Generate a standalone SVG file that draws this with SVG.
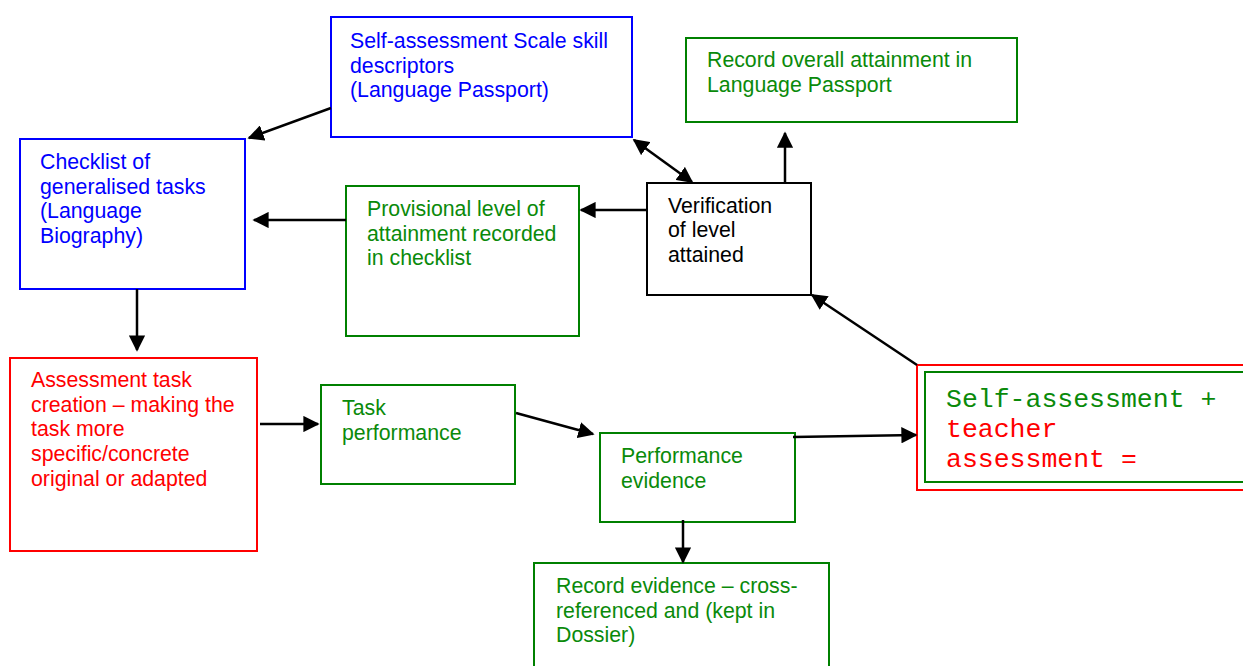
<svg xmlns="http://www.w3.org/2000/svg" width="1243" height="666" viewBox="0 0 1243 666">
<style>
rect{fill:#fff;stroke-width:2}
.b{stroke:#0000ff}.g{stroke:#008000}.r{stroke:#ff0000}.k{stroke:#000}
text{font-family:"Liberation Sans",Arial,sans-serif;font-size:21.3px}
.tb{fill:#0000ff}.tg{fill:#0a8a0a}.tr{fill:#ff0000}.tk{fill:#000}
.mono{font-family:"Liberation Mono","Courier New",monospace;font-size:26.5px}
.c line{stroke:#000;stroke-width:2.5;marker-end:url(#ah)}
</style>
<defs>
<marker id="ah" viewBox="0 0 10 10" refX="9" refY="5" markerWidth="6.5" markerHeight="6.5" markerUnits="strokeWidth" orient="auto"><path d="M0,0L10,5L0,10z" fill="#000"/></marker>
<marker id="as" viewBox="0 0 10 10" refX="1" refY="5" markerWidth="6.5" markerHeight="6.5" markerUnits="strokeWidth" orient="auto"><path d="M10,0L0,5L10,10z" fill="#000"/></marker>
</defs>
<rect width="1243" height="666" style="stroke:none"/>
<g id="scale"><rect class="b" x="331" y="17" width="301" height="120"/>
<text class="tb"><tspan x="350" y="48">Self-assessment Scale skill</tspan><tspan x="350" y="73">descriptors</tspan><tspan x="350" y="97">(Language Passport)</tspan></text></g>
<g id="record-overall"><rect class="g" x="686" y="38" width="331" height="84"/>
<text class="tg"><tspan x="707" y="67">Record overall attainment in</tspan><tspan x="707" y="92">Language Passport</tspan></text></g>
<g id="checklist"><rect class="b" x="20" y="139" width="225" height="150"/>
<text class="tb"><tspan x="40" y="169">Checklist of</tspan><tspan x="40" y="194">generalised tasks</tspan><tspan x="40" y="218">(Language</tspan><tspan x="40" y="243">Biography)</tspan></text></g>
<g id="provisional"><rect class="g" x="346" y="186" width="233" height="150"/>
<text class="tg"><tspan x="367" y="216">Provisional level of</tspan><tspan x="367" y="241">attainment recorded</tspan><tspan x="367" y="265">in checklist</tspan></text></g>
<g id="verification"><rect class="k" x="647" y="183" width="164" height="112"/>
<text class="tk"><tspan x="668" y="213">Verification</tspan><tspan x="668" y="237">of level</tspan><tspan x="668" y="262">attained</tspan></text></g>
<g id="task-creation"><rect class="r" x="10" y="358" width="247" height="193"/>
<text class="tr"><tspan x="31" y="387">Assessment task</tspan><tspan x="31" y="412">creation – making the</tspan><tspan x="31" y="436">task more</tspan><tspan x="31" y="461">specific/concrete</tspan><tspan x="31" y="486">original or adapted</tspan></text></g>
<g id="task-performance"><rect class="g" x="321" y="385" width="194" height="99"/>
<text class="tg"><tspan x="342" y="415">Task</tspan><tspan x="342" y="440">performance</tspan></text></g>
<g id="performance-evidence"><rect class="g" x="600" y="433" width="195" height="89"/>
<text class="tg"><tspan x="621" y="463">Performance</tspan><tspan x="621" y="488">evidence</tspan></text></g>
<g id="assessment"><rect class="r" x="917" y="365" width="340" height="125"/><rect class="g" x="925" y="372" width="330" height="110"/>
<text class="mono"><tspan class="tg" x="946" y="407">Self-assessment +</tspan><tspan class="tr" x="946" y="437">teacher</tspan><tspan class="tr" x="946" y="467">assessment =</tspan></text></g>
<g id="record-evidence"><rect class="g" x="534" y="563" width="295" height="110"/>
<text class="tg"><tspan x="556" y="593">Record evidence – cross-</tspan><tspan x="556" y="618">referenced and (kept in</tspan><tspan x="556" y="642">Dossier)</tspan></text></g>
<g id="connectors" class="c">
<line x1="331" y1="108" x2="249" y2="138"/>
<line x1="634" y1="140" x2="692" y2="182" style="marker-start:url(#as)"/>
<line x1="785" y1="183" x2="785" y2="133"/>
<line x1="647" y1="210" x2="581" y2="210"/>
<line x1="346" y1="220" x2="254" y2="220"/>
<line x1="137" y1="289" x2="137" y2="350"/>
<line x1="260" y1="424" x2="318" y2="424"/>
<line x1="516" y1="413" x2="593" y2="434"/>
<line x1="793" y1="437" x2="916" y2="435"/>
<line x1="917" y1="365" x2="812" y2="295"/>
<line x1="683" y1="520" x2="683" y2="562"/>
</g>
</svg>
